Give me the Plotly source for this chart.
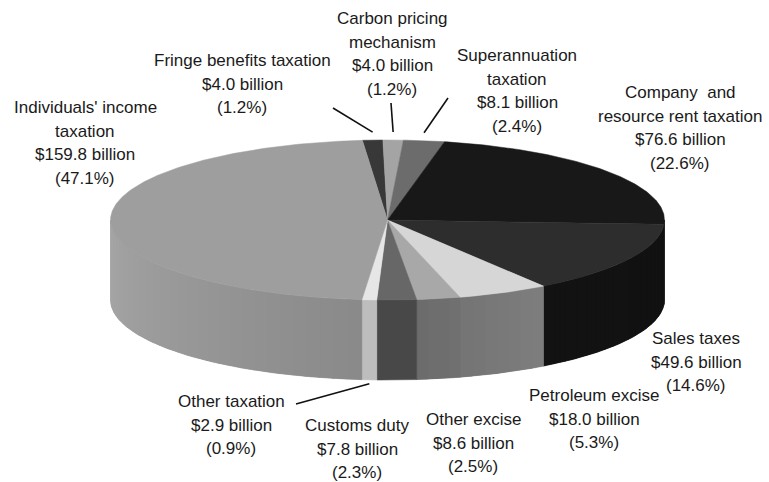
import numpy as np
import plotly.graph_objects as go

# Revenue sources, clockwise from the top of the pie
categories = [
    "Fringe benefits taxation",
    "Carbon pricing mechanism",
    "Superannuation taxation",
    "Company and resource rent taxation",
    "Sales taxes",
    "Petroleum excise",
    "Other excise",
    "Customs duty",
    "Other taxation",
    "Individuals' income taxation",
]
values_bn = [4.0, 4.0, 8.1, 76.6, 49.6, 18.0, 8.6, 7.8, 2.9, 159.8]
shares_pct = [1.2, 1.2, 2.4, 22.6, 14.6, 5.3, 2.5, 2.3, 0.9, 47.1]
label_names = [
    ["Fringe benefits taxation"],
    ["Carbon pricing", "mechanism"],
    ["Superannuation", "taxation"],
    ["Company  and", "resource rent taxation"],
    ["Sales taxes"],
    ["Petroleum excise"],
    ["Other excise"],
    ["Customs duty"],
    ["Other taxation"],
    ["Individuals' income", "taxation"],
]

# Greyscale styling: top face colour, and side colour at (start, end) of the visible wall
top_colors = ["#383838", "#a4a4a4", "#6c6c6c", "#181818", "#2d2d2d",
              "#d6d6d6", "#a8a8a8", "#676767", "#e6e6e6", "#9e9e9e"]
side_colors = [("#2a2a2a", "#2a2a2a"), ("#8a8a8a", "#8a8a8a"), ("#555555", "#555555"),
               ("#141414", "#141414"), ("#111111", "#121212"), ("#7e7e7e", "#747474"),
               ("#707070", "#6c6c6c"), ("#484848", "#484848"), ("#bdbdbd", "#bdbdbd"),
               ("#8a8a8a", "#a6a6a6")]

# Label block centres and leader lines (None = no leader)
label_pos = [(242, 84), (392, 54), (517, 91), (680, 128), (696, 362),
             (594, 419), (473, 443), (357, 449), (231, 425), (85, 143)]
leader_ends = [(333, 108), (391, 103), (448, 98), None, None,
               None, None, None, (296, 404), None]

# Pie geometry (pixel space)
W, H = 769, 482
cx, cy, rx, ry, depth = 387.5, 220.0, 277.0, 80.0, 80.0
start_angle = -5.2  # degrees, clockwise from 12 o'clock

total = sum(values_bn)
spans = [v / total * 360.0 for v in values_bn]
bounds = np.concatenate([[start_angle], start_angle + np.cumsum(spans)])


def rim(theta_deg, dy=0.0):
    t = np.radians(theta_deg)
    return cx + rx * np.sin(t), cy - ry * np.cos(t) + dy


def mix(c1, c2, f):
    a = [int(c1[i:i + 2], 16) for i in (1, 3, 5)]
    b = [int(c2[i:i + 2], 16) for i in (1, 3, 5)]
    m = [round(a[k] + (b[k] - a[k]) * f) for k in range(3)]
    return "#%02x%02x%02x" % tuple(m)


def wall(t0, t1, n=8):
    th = np.linspace(t0, t1, n)
    xt, yt = rim(th)
    xb, yb = rim(th[::-1], depth)
    return np.concatenate([xt, xb, xt[:1]]), np.concatenate([yt, yb, yt[:1]])


fig = go.Figure()

# Outer wall: only the front half (90..270 deg) is visible
for i in range(len(values_bn)):
    a, b = bounds[i], bounds[i + 1]
    lo, hi = max(a, 90.0), min(b, 270.0)
    if hi <= lo:
        continue
    # solid base for the whole wall section
    xw, yw = wall(lo, hi, max(6, int(hi - lo) * 2))
    base = mix(side_colors[i][0], side_colors[i][1], 0.5)
    fig.add_trace(go.Scatter(x=xw, y=yw, mode="lines", fill="toself", fillcolor=base,
                             line=dict(color=base, width=0.6),
                             hoverinfo="skip", showlegend=False))
    if side_colors[i][0] == side_colors[i][1]:
        continue
    # shading bands across the wall
    n_strips = max(1, int(np.ceil((hi - lo) / 3.0)))
    edges = np.linspace(lo, hi, n_strips + 1)
    for k in range(n_strips):
        t0, t1 = edges[k], min(edges[k + 1] + 0.4, hi)
        f = ((edges[k] + edges[k + 1]) / 2 - lo) / (hi - lo)
        col = mix(side_colors[i][0], side_colors[i][1], f)
        xs, ys = wall(t0, t1, 6)
        fig.add_trace(go.Scatter(x=xs, y=ys, mode="lines", fill="toself", fillcolor=col,
                                 line=dict(width=0), hoverinfo="skip", showlegend=False))

# Top faces
for i in range(len(values_bn)):
    th = np.linspace(bounds[i], bounds[i + 1], max(4, int(spans[i] * 2)))
    xs, ys = rim(th)
    fig.add_trace(go.Scatter(
        x=np.concatenate([[cx], xs, [cx]]), y=np.concatenate([[cy], ys, [cy]]),
        mode="lines", fill="toself", fillcolor=top_colors[i],
        line=dict(color=top_colors[i], width=0.5),
        name=categories[i], hoverinfo="name", showlegend=False))

# Leader lines from slice midpoints to labels
for i, end in enumerate(leader_ends):
    if end is None:
        continue
    mid = (bounds[i] + bounds[i + 1]) / 2
    if np.cos(np.radians(mid)) > 0:
        px, py = rim(mid, -8)
    else:
        px, py = rim(mid, depth + 4)
    fig.add_trace(go.Scatter(x=[end[0], px], y=[end[1], py], mode="lines",
                             line=dict(color="#111111", width=1.6),
                             hoverinfo="skip", showlegend=False))

# Labels: name lines, value and share
annotations = []
for i in range(len(values_bn)):
    lines = label_names[i] + [f"${values_bn[i]:.1f} billion", f"({shares_pct[i]:.1f}%)"]
    x0, yc = label_pos[i]
    n = len(lines)
    for j, txt in enumerate(lines):
        annotations.append(dict(
            x=x0, y=yc + (j - (n - 1) / 2) * 23.8, text=txt, showarrow=False,
            xanchor="center", yanchor="middle",
            font=dict(family="Liberation Sans, Arial, sans-serif", size=17, color="#1a1a1a")))

fig.update_layout(
    width=W, height=H, margin=dict(l=0, r=0, t=0, b=0),
    paper_bgcolor="white", plot_bgcolor="white",
    xaxis=dict(range=[0, W], visible=False, fixedrange=True),
    yaxis=dict(range=[H, 0], visible=False, fixedrange=True),
    annotations=annotations, showlegend=False,
)

fig.write_html("out.html")
